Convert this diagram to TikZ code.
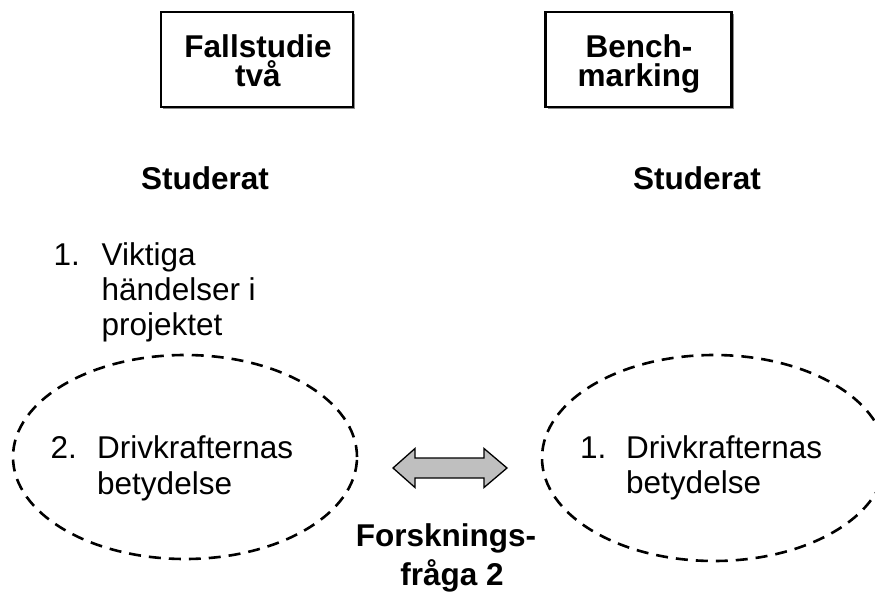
\documentclass[tikz,border=0pt]{standalone}
\usepackage{fontspec}
\setmainfont{Liberation Sans}
\usetikzlibrary{shapes.geometric,shadows}
\begin{document}
\begin{tikzpicture}[x=1pt,y=-1pt,
  txt/.style={inner sep=0pt, font=\fontsize{31.5}{36}\selectfont},
  boldtxt/.style={inner sep=0pt, font=\fontsize{31.5}{36}\selectfont\bfseries},
  lowline/.style={boldtxt, text height=22pt},
  framebox/.style={draw=black, line width=2.2pt, fill=white, inner sep=0pt,
    drop shadow={shadow xshift=2.4pt, shadow yshift=-2.4pt, fill=black!45, opacity=1}},
  dashring/.style={ellipse, draw=black, line width=2.6pt, inner sep=0pt,
    dash pattern=on 12pt off 8pt},
  twoway/.style={draw=black, line width=1.3pt, fill=black!25, line join=miter}
]
\useasboundingbox (0,0) rectangle (875,594);

% header boxes
\node[framebox, minimum width=192pt, minimum height=95pt] (fall) at (257,59.5) {};
\node[framebox, minimum width=186pt, minimum height=95pt] (bench) at (638.5,59.5) {};
\node[boldtxt, anchor=base] (fallA) at (258,57.3) {Fallstudie};
\node[lowline, anchor=base] (fallB) at (258,86.3) {två};
\node[boldtxt, anchor=base] (benchA) at (639,57.3) {Bench-};
\node[lowline, anchor=base] (benchB) at (639,86.3) {marking};

% column headings
\node[boldtxt, anchor=base] (studL) at (205,189) {Studerat};
\node[boldtxt, anchor=base] (studR) at (697,189) {Studerat};

% first item, left column
\node[txt, anchor=base west] (numA) at (53.5,265) {1.};
\node[txt, anchor=base west] (itemA1) at (101.5,265) {Viktiga};
\node[txt, anchor=base west] (itemA2) at (101.5,300) {händelser i};
\node[txt, anchor=base west] (itemA3) at (101.5,335) {projektet};

% dashed rings
\node[dashring, minimum width=344pt, minimum height=204pt] (ringL) at (185,457) {};
\node[dashring, minimum width=344pt, minimum height=206pt] (ringR) at (714,458) {};

% second item, left column
\node[txt, anchor=base west] (numB) at (50.5,458.5) {2.};
\node[txt, anchor=base west] (itemB1) at (97,458.5) {Drivkrafternas};
\node[txt, anchor=base west] (itemB2) at (97,494) {betydelse};

% item, right column
\node[txt, anchor=base west] (numC) at (580,458) {1.};
\node[txt, anchor=base west] (itemC1) at (626,458) {Drivkrafternas};
\node[txt, anchor=base west] (itemC2) at (626,493) {betydelse};

% two-headed block arrow
\draw[twoway] (393,468) -- (415,448.5) -- (415,458) -- (484,458) -- (484,448.5)
  -- (507,468) -- (484,487.5) -- (484,478) -- (415,478) -- (415,487.5) -- cycle;

% research question label
\node[boldtxt, anchor=base] (rqA) at (446,546.7) {Forsknings-};
\node[boldtxt, anchor=base] (rqB) at (452,585) {fråga 2};
\end{tikzpicture}
\end{document}
